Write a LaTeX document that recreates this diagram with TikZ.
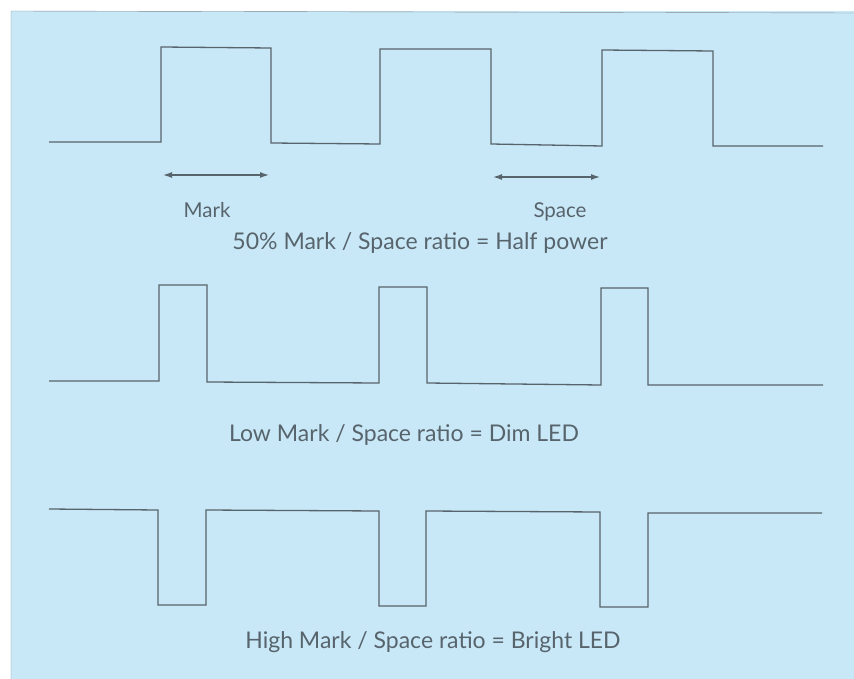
\documentclass[tikz,border=0pt]{standalone}
\usepackage{fontspec}
\setmainfont{Lato}
\usepackage{xcolor}
\usetikzlibrary{arrows.meta,positioning}
\definecolor{paper}{RGB}{200,232,248}
\definecolor{ink}{RGB}{88,100,108}
\definecolor{rule}{RGB}{130,140,145}
\tikzset{
    wave/.style={draw=ink, line width=1.3pt, line join=miter},
    span/.style={{Latex[length=9pt,width=6pt]}-{Latex[length=9pt,width=6pt]}, draw=ink, line width=1.2pt},
    tag/.style={text=ink, font=\fontsize{20.5}{24}\selectfont, inner sep=0pt},
    caption/.style={text=ink, font=\fontsize{23}{27}\selectfont, inner sep=0pt},
}
\begin{document}
\begin{tikzpicture}[x=1pt, y=-1pt]
    \useasboundingbox (0,0) rectangle (854,679);
    \fill[white] (0,0) rectangle (854,679);
    \fill[paper] (11,11) rectangle (854,679);
    \draw[rule] (11,679) -- (11,11) -- (854,13);

    % 50% mark / space
    \draw[wave] (49,142) -- (161,142) -- (161,47) -- (271,48) -- (271,143) -- (380,144) -- (380,49) -- (491,49)
        -- (491,144) -- (602,146) -- (602,50) -- (713,51) -- (713,146) -- (823,146);
    \coordinate (markL) at (163,175);
    \coordinate (markR) at (269,175);
    \coordinate (spaceL) at (493,177);
    \coordinate (spaceR) at (600,177);
    \draw[span] (markL) -- (markR);
    \draw[span] (spaceL) -- (spaceR);
    \node[tag] (mark) at (207,210) {Mark};
    \node[tag] (space) at (560,212) {Space};
    \node[caption] (half) at (420,243) {50\% Mark / Space ratio = Half power};

    % low mark / space
    \draw[wave] (49,381) -- (159,381) -- (159,285) -- (207,285) -- (207,382) -- (379,383) -- (379,287) -- (427,287)
        -- (427,383) -- (601,385) -- (601,288) -- (648,288) -- (648,385) -- (823,385);
    \node[caption] (dim) at (404,435) {Low Mark / Space ratio = Dim LED};

    % high mark / space
    \draw[wave] (49,509) -- (158,510) -- (158,605) -- (206,605) -- (206,510) -- (379,511) -- (379,606) -- (426,606)
        -- (426,511) -- (600,512) -- (600,607) -- (648,607) -- (648,513) -- (822,513);
    \node[caption] (bright) at (433,642) {High Mark / Space ratio = Bright LED};
\end{tikzpicture}
\end{document}
